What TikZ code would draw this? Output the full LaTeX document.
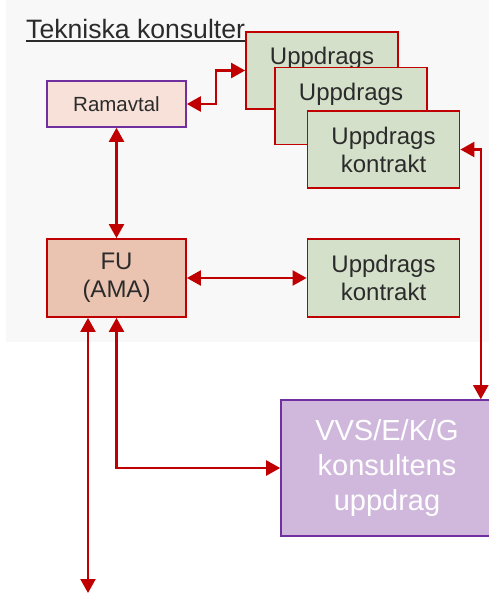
\documentclass[tikz,border=0pt]{standalone}
\usepackage{fontspec}
\setmainfont{Liberation Sans}
\usetikzlibrary{arrows.meta}
\definecolor{panel}{HTML}{F8F8F8}
\definecolor{greenfill}{HTML}{D4E0C9}
\definecolor{ramfill}{HTML}{F7E1D9}
\definecolor{fufill}{HTML}{EBC4B1}
\definecolor{vvsfill}{HTML}{CFB8DC}
\definecolor{darkred}{HTML}{C00000}
\definecolor{purp}{HTML}{7030A0}
\definecolor{txt}{HTML}{2B2B2B}
\tikzset{
  box/.style={rectangle, inner sep=0pt, align=center, text=txt},
  greenbox/.style={box, fill=greenfill, draw=darkred, line width=1.8pt, minimum width=152pt, minimum height=77pt, font=\fontsize{24}{28}\selectfont},
  rambox/.style={box, fill=ramfill, draw=purp, line width=1.6pt, minimum width=139pt, minimum height=46pt, font=\fontsize{20.5}{24}\selectfont},
  fubox/.style={box, fill=fufill, draw=darkred, line width=1.8pt, minimum width=139pt, minimum height=78pt, font=\fontsize{24}{28}\selectfont},
  vvsbox/.style={box, fill=vvsfill, draw=purp, line width=1.6pt, minimum width=212pt, minimum height=136pt, text=white, font=\fontsize{29}{35}\selectfont},
  lbl/.style={inner sep=0pt, text=txt, font=\fontsize{24}{28}\selectfont},
  arr/.style={draw=darkred, line width=2.2pt, {Triangle[length=14pt,width=15pt]}-{Triangle[length=14pt,width=15pt]}}
}
\begin{document}
\begin{tikzpicture}[x=1pt,y=-1pt]
\useasboundingbox (0,0) rectangle (489,602);
\clip (0,0) rectangle (489,602);
% panel
\fill[panel] (6,-5) rectangle (495,342);
% title
\node[anchor=base west, inner sep=0pt, text=txt, font=\fontsize{26.6}{30}\selectfont] (title) at (26,38) {Tekniska konsulter};
\draw[txt, line width=1.6pt] ([yshift=-3pt]title.base west) -- ([yshift=-3pt]title.base east);
% boxes
\node[rambox] (ram) at (116.5,104) {Ramavtal};
\node[greenbox] (b1) at (322,70.5) {};
\node[lbl, anchor=base] (t1) at (322,64) {Uppdrags};
\node[greenbox] (b2) at (351,106) {};
\node[lbl, anchor=base] (t2) at (351,100) {Uppdrags};
\node[greenbox] (b3) at (383.5,149.5) {Uppdrags\\kontrakt};
\node[fubox] (fu) at (116.5,278) {FU\\(AMA)};
\node[greenbox, minimum height=78pt] (b4) at (383.5,278) {Uppdrags\\kontrakt};
\node[vvsbox] (vvs) at (387,468) {VVS/E/K/G\\konsultens\\uppdrag};
\coordinate (bottomend) at (88,593);
% connectors
\draw[arr] (ram.east) -- ++(29,0) |- (b1.west);
\draw[arr] (ram.south) -- (fu.north);
\draw[arr] (fu.east) -- (b4.west);
\draw[arr] (b3.east) -| ([xshift=-13pt]vvs.north east);
\draw[arr] (fu.south) |- (vvs.west);
\draw[arr] ([xshift=-28.5pt]fu.south) -- (bottomend);
\end{tikzpicture}
\end{document}
